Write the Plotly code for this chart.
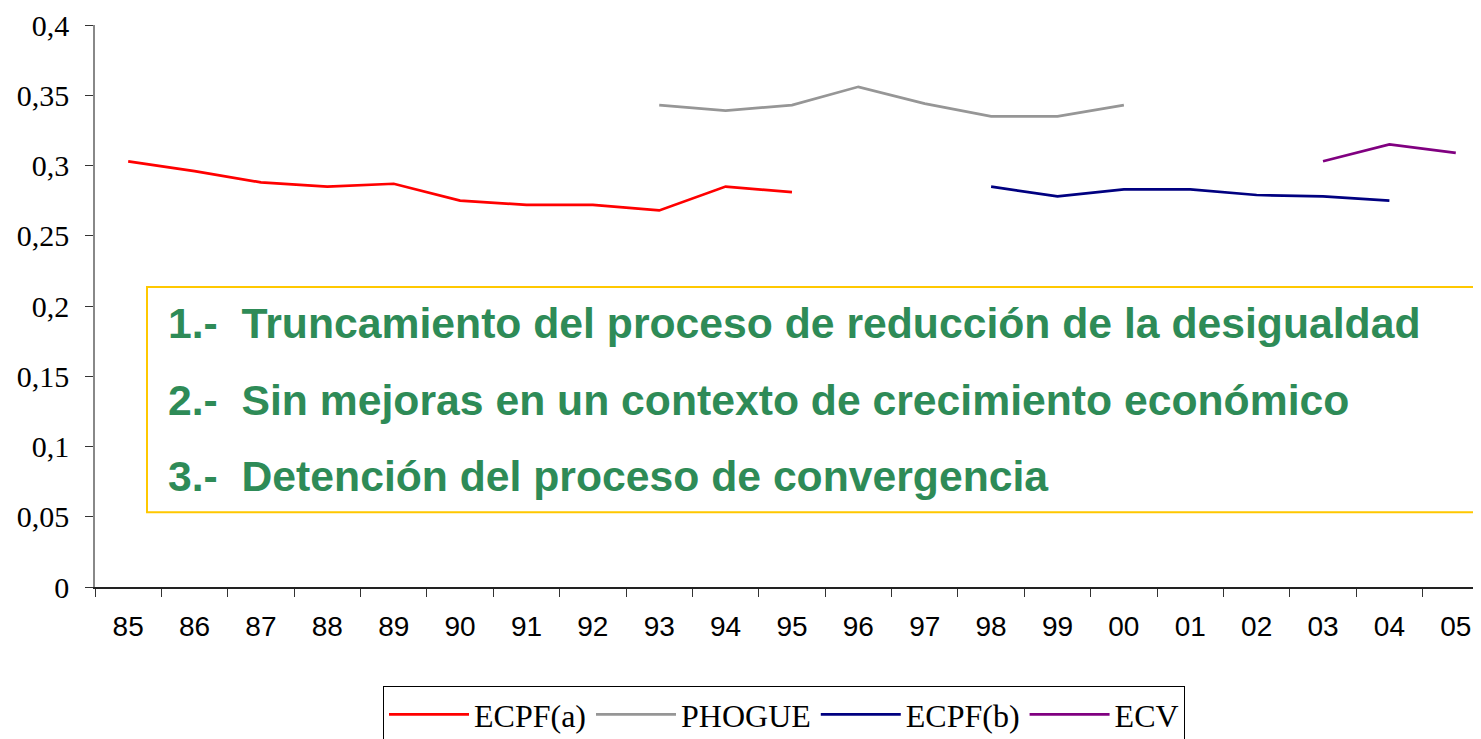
import plotly.graph_objects as go

years = ["85", "86", "87", "88", "89", "90", "91", "92", "93", "94", "95",
         "96", "97", "98", "99", "00", "01", "02", "03", "04", "05"]

ecpf_a_years = ["85", "86", "87", "88", "89", "90", "91", "92", "93", "94", "95"]
ecpf_a_vals = [0.303, 0.296, 0.288, 0.285, 0.287, 0.275, 0.272, 0.272, 0.268, 0.285, 0.281]

phogue_years = ["93", "94", "95", "96", "97", "98", "99", "00"]
phogue_vals = [0.343, 0.339, 0.343, 0.356, 0.344, 0.335, 0.335, 0.343]

ecpf_b_years = ["98", "99", "00", "01", "02", "03", "04"]
ecpf_b_vals = [0.285, 0.278, 0.283, 0.283, 0.279, 0.278, 0.275]

ecv_years = ["03", "04", "05"]
ecv_vals = [0.303, 0.315, 0.309]

notes = [
    "1.-\u00a0\u00a0Truncamiento del proceso de reducción de la desigualdad",
    "2.-\u00a0\u00a0Sin mejoras en un contexto de crecimiento económico",
    "3.-\u00a0\u00a0Detención del proceso de convergencia",
]

series = [
    ("ECPF(a)", ecpf_a_years, ecpf_a_vals, "#FF0000"),
    ("PHOGUE", phogue_years, phogue_vals, "#969696"),
    ("ECPF(b)", ecpf_b_years, ecpf_b_vals, "#000080"),
    ("ECV", ecv_years, ecv_vals, "#800080"),
]

fig = go.Figure()
for name, xs, ys, col in series:
    fig.add_trace(go.Scatter(x=xs, y=ys, mode="lines", name=name,
                             line=dict(color=col, width=2.7)))

# page body has an 8px margin; figure is sized/offset to compensate
OFF = 8
W, H = 1481 - OFF, 739 - OFF
ml, mt, mb = 95 - OFF, 23 - OFF, 152
plot_h = H - mt - mb

def py(pix):
    # pix is a y position in window pixels
    return (H - mb - (pix - OFF)) / plot_h

def px(pix):
    return (pix - OFF - ml) / (W - ml)

fig.update_layout(
    width=W, height=H,
    margin=dict(l=ml, r=0, t=mt, b=mb, pad=0),
    paper_bgcolor="white", plot_bgcolor="white",
    separators=", ",
    showlegend=True,
    legend=dict(
        orientation="h",
        xref="container", yref="container",
        x=(383 - OFF) / W, xanchor="left",
        y=1 - (686 - OFF) / H, yanchor="top",
        font=dict(family="Liberation Serif", size=32, color="black"),
        bordercolor="black", borderwidth=1,
        itemwidth=80,
        bgcolor="white",
    ),
    xaxis=dict(
        type="category",
        categoryorder="array", categoryarray=years,
        range=[-0.5, 20.38],
        showline=True, linecolor="#222222", linewidth=1.5,
        ticks="outside", tickson="boundaries", ticklen=8,
        tickcolor="#333333", tickwidth=1,
        tickfont=dict(family="Liberation Sans", size=28, color="black"),
        ticklabelstandoff=14,
        ticklabeloverflow="allow",
        showgrid=False, zeroline=False,
    ),
    yaxis=dict(
        range=[0, 0.4], dtick=0.05, tick0=0,
        showline=True, linecolor="#888888", linewidth=1.5,
        ticks="outside", ticklen=8, tickcolor="#333333", tickwidth=1,
        tickfont=dict(family="Liberation Serif", size=30, color="black"),
        ticklabelstandoff=10,
        ticklabeloverflow="allow",
        showgrid=False, zeroline=False,
    ),
)

fig.add_shape(type="rect", xref="paper", yref="paper",
              x0=px(147), x1=1.02,
              y0=py(512), y1=py(286),
              line=dict(color="#FFC800", width=2), fillcolor="rgba(0,0,0,0)",
              layer="above")

centers = [322, 399, 476]
for txt, c in zip(notes, centers):
    fig.add_annotation(text=txt, xref="paper", yref="paper",
                       x=px(166), xanchor="left",
                       y=py(c), yanchor="middle", showarrow=False,
                       font=dict(family="Liberation Sans", size=42.7,
                                 color="#2E8B57", weight="bold"))

fig.write_html("out.html")
